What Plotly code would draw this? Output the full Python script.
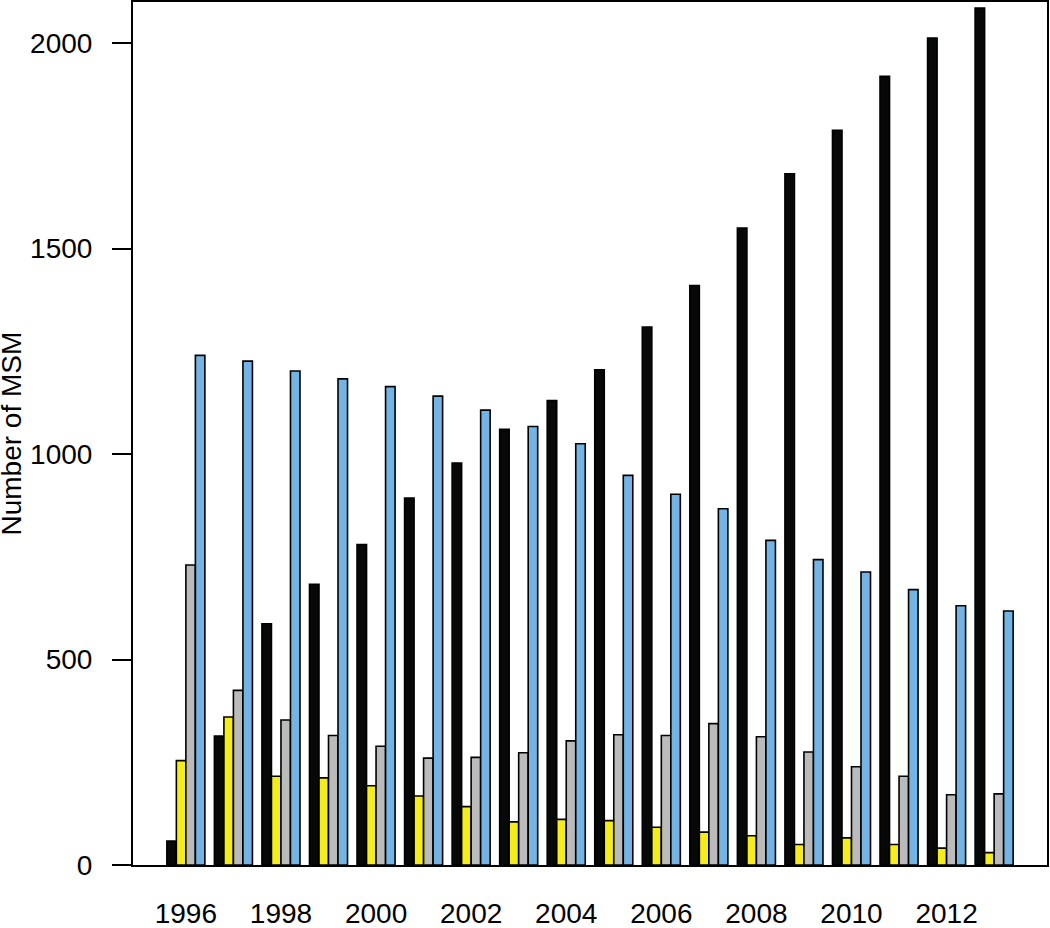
import plotly.graph_objects as go

years = [str(y) for y in range(1996, 2014)]
tick_years = [str(y) for y in range(1996, 2013, 2)]

black_vals = [58, 314, 587, 683, 780, 893, 978, 1060, 1130, 1205, 1309, 1410, 1550, 1682, 1788, 1919, 2012, 2085]
yellow_vals = [254, 360, 216, 212, 193, 168, 142, 105, 111, 108, 92, 80, 71, 50, 66, 50, 41, 30]
gray_vals = [730, 425, 353, 315, 289, 260, 262, 273, 302, 317, 315, 344, 312, 275, 239, 216, 171, 173]
blue_vals = [1240, 1226, 1202, 1183, 1164, 1141, 1107, 1067, 1025, 948, 902, 867, 790, 743, 713, 670, 631, 618]

y_ticks = [0, 500, 1000, 1500, 2000]

series = [
    ("Series 1", black_vals, "#060908"),
    ("Series 2", yellow_vals, "#F5EC1C"),
    ("Series 3", gray_vals, "#BBBBBB"),
    ("Series 4", blue_vals, "#74B4E4"),
]

fig = go.Figure()
for name, vals, col in series:
    fig.add_trace(go.Bar(
        x=years, y=vals, name=name,
        marker=dict(color=col, line=dict(color="#000000", width=1.6)),
        showlegend=False,
    ))

FONT = "Liberation Sans, Arial, Helvetica, sans-serif"

fig.update_layout(
    width=1050, height=928,
    margin=dict(l=133, r=3, t=2, b=63, pad=0),
    paper_bgcolor="white", plot_bgcolor="white",
    barmode="group", bargap=0.2, bargroupgap=0,
    font=dict(family=FONT, size=28, color="black"),
    hovermode=False,
    xaxis=dict(
        type="category",
        automargin=False,
        range=[-1.112, 18.112],
        tickmode="array", tickvals=tick_years, ticktext=tick_years,
        ticks="", showgrid=False, zeroline=False,
        showline=True, linecolor="black", linewidth=2, mirror=True,
        ticklabelstandoff=22,
        tickfont=dict(family=FONT, size=28, color="black"),
    ),
    yaxis=dict(
        automargin=False,
        range=[0, 2100],
        tickmode="array", tickvals=y_ticks,
        ticks="outside", ticklen=19, tickwidth=2, tickcolor="black",
        showgrid=False, zeroline=False,
        showline=True, linecolor="black", linewidth=2, mirror=True,
        ticklabelstandoff=14,
        tickfont=dict(family=FONT, size=28, color="black"),
    ),
    annotations=[dict(
        text="Number of MSM", textangle=-90,
        xref="paper", yref="paper",
        x=(11 - 133) / 914, y=0.5,
        xanchor="center", yanchor="middle",
        showarrow=False,
        font=dict(family=FONT, size=28, color="black"),
    )],
)

fig.write_html(
    "out.html",
    config={"displayModeBar": False, "staticPlot": True},
    post_script="document.body.style.margin='0';document.body.style.overflow='hidden';",
)
